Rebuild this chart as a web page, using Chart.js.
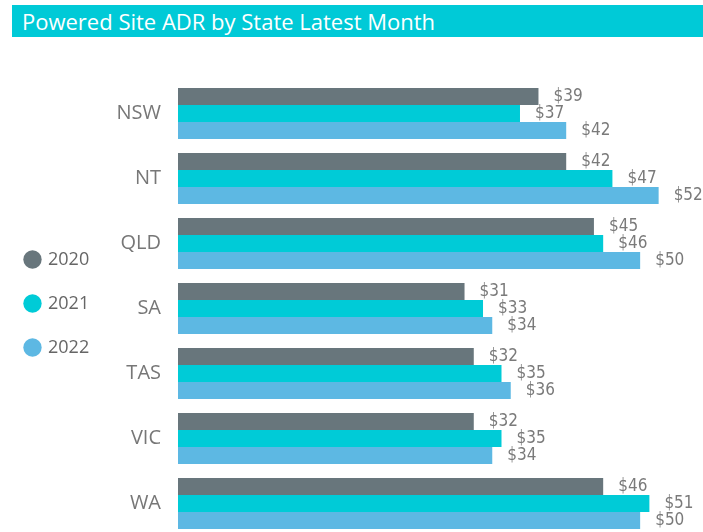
<!DOCTYPE html>
<html>
<head>
<meta charset="utf-8">
<script src="https://cdn.jsdelivr.net/npm/chart.js@4.4.0/dist/chart.umd.min.js"></script>
<style>
  html, body { margin: 0; padding: 0; background: #fff; overflow: hidden; }
  #wrap { position: relative; width: 703px; height: 536px; }
  #title {
    position: absolute; left: 12px; top: 5px; width: 691px; height: 32px;
    background: #00CAD7; color: #fff; font: 22px "Open Sans", sans-serif;
    line-height: 32px; padding-left: 10px; box-sizing: border-box; z-index: 2;
  }
</style>
</head>
<body>
<div id="wrap">
  <div id="title">Powered Site ADR by State Latest Month</div>
  <canvas id="adrChart" width="703" height="536"></canvas>
</div>
<script>
//state ADR values by year
const states = ["NSW", "NT", "QLD", "SA", "TAS", "VIC", "WA"];
const years = ["2020", "2021", "2022"];
const adr2020 = [39, 42, 45, 31, 32, 32, 46];
const adr2021 = [37, 47, 46, 33, 35, 35, 51];
const adr2022 = [42, 52, 50, 34, 36, 34, 50];
const colors = ["#68767C", "#00CBD7", "#5DB8E3"];

//value labels at bar ends
const barLabels = {
  id: "barLabels",
  afterLayout(chart) {
    // nudge legend up a little to sit like the original
    chart.legend.top -= 5;
    chart.legend.bottom -= 5;
  },
  afterDatasetsDraw(chart) {
    const c = chart.ctx;
    c.save();
    c.font = '17px "DejaVu Sans Condensed", sans-serif';
    c.fillStyle = "#7a7a7a";
    c.textAlign = "left";
    c.textBaseline = "middle";
    chart.data.datasets.forEach((ds, i) => {
      chart.getDatasetMeta(i).data.forEach((bar, j) => {
        c.fillText("$" + ds.data[j], bar.x + 15, bar.y);
      });
    });
    c.restore();
  },
};

const ctx = document.getElementById("adrChart");
new Chart(ctx, {
  type: "bar",
  data: {
    labels: states,
    datasets: [
      { label: years[0], data: adr2020, backgroundColor: colors[0] },
      { label: years[1], data: adr2021, backgroundColor: colors[1] },
      { label: years[2], data: adr2022, backgroundColor: colors[2] },
    ],
  },
  options: {
    indexAxis: "y",
    responsive: false,
    animation: false,
    datasets: {
      bar: { categoryPercentage: 0.785, barPercentage: 1.0, borderWidth: 0 },
    },
    layout: { padding: { top: 81, left: 0, right: 0, bottom: 0 } },
    plugins: {
      tooltip: { enabled: false },
      legend: {
        position: "left",
        labels: {
          usePointStyle: true,
          pointStyle: "circle",
          boxWidth: 13,
          boxHeight: 13,
          padding: 26,
          color: "#666",
          font: { family: "Open Sans", size: 18 },
        },
      },
    },
    scales: {
      x: {
        display: false,
        min: 0,
        max: 56.8,
      },
      y: {
        grid: { display: false, drawTicks: false },
        border: { display: false },
        ticks: {
          color: "#777",
          padding: 17,
          font: { family: "Open Sans", size: 20 },
        },
        afterFit(scale) {
          const lg = scale.chart.legend;
          scale.width = 178 - (lg && lg.width ? lg.width : 98);
          scale.paddingTop = 0;
          scale.paddingBottom = 0;
        },
      },
    },
  },
  plugins: [barLabels],
});
</script>
</body>
</html>
